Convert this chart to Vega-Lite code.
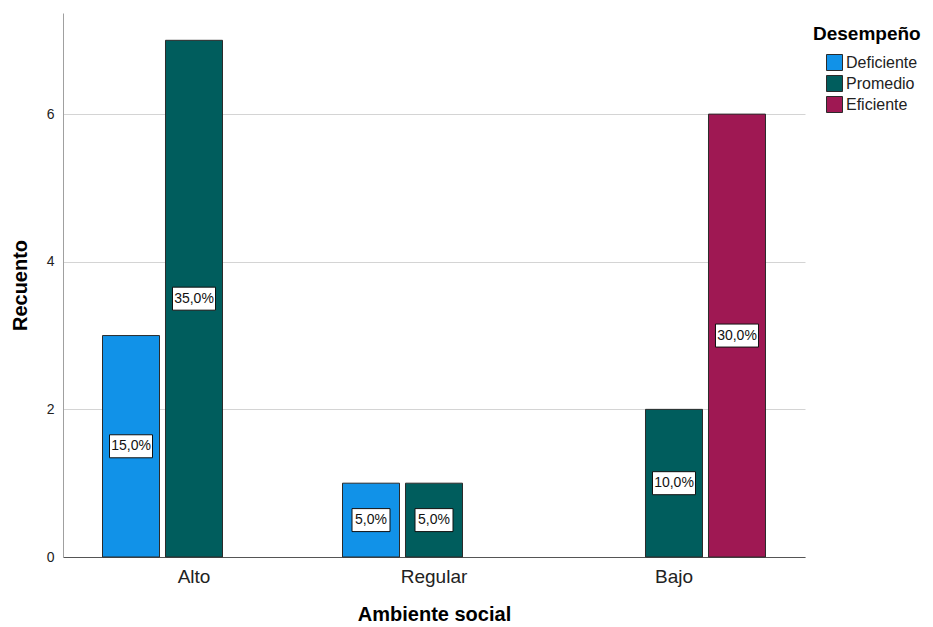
{
  "$schema": "https://vega.github.io/schema/vega-lite/v6.json",
  "autosize": {"type": "none"},
  "padding": {"left": 63, "top": 13, "right": 128, "bottom": 70},
  "width": 742,
  "height": 544,
  "background": "white",
  "config": {
    "view": {"stroke": null},
    "font": "Liberation Sans",
    "locale": {
      "number": {"decimal": ",", "thousands": ".", "grouping": [3], "currency": ["", " €"]}
    }
  },
  "data": {
    "values": [
      {"Ambiente": "Alto", "Desempeno": "Deficiente", "Recuento": 3},
      {"Ambiente": "Alto", "Desempeno": "Promedio", "Recuento": 7},
      {"Ambiente": "Regular", "Desempeno": "Deficiente", "Recuento": 1},
      {"Ambiente": "Regular", "Desempeno": "Promedio", "Recuento": 1},
      {"Ambiente": "Bajo", "Desempeno": "Promedio", "Recuento": 2},
      {"Ambiente": "Bajo", "Desempeno": "Eficiente", "Recuento": 6}
    ]
  },
  "transform": [
    {"joinaggregate": [{"op": "sum", "field": "Recuento", "as": "Total"}]},
    {"calculate": "datum.Recuento / datum.Total", "as": "Porcentaje"},
    {"calculate": "datum.Recuento / 2", "as": "Medio"}
  ],
  "encoding": {
    "x": {
      "field": "Ambiente",
      "type": "nominal",
      "sort": ["Alto", "Regular", "Bajo"],
      "scale": {"paddingInner": 0.2375, "paddingOuter": 0.1646},
      "axis": {
        "title": "Ambiente social",
        "titleFontSize": 20,
        "titleFontWeight": "bold",
        "titleColor": "#000000",
        "titlePadding": 18,
        "labelAngle": 0,
        "labelFontSize": 19,
        "labelColor": "#222222",
        "labelPadding": 10,
        "ticks": false,
        "domainColor": "#555555",
        "domainWidth": 1
      }
    },
    "xOffset": {
      "field": "Desempeno",
      "type": "nominal",
      "scale": {"domain": ["Deficiente", "Promedio", "Eficiente"], "paddingInner": 0.095, "paddingOuter": 0}
    }
  },
  "layer": [
    {
      "mark": {"type": "bar", "stroke": "#2b2b2b", "strokeWidth": 1},
      "encoding": {
        "y": {
          "field": "Recuento",
          "type": "quantitative",
          "scale": {"domain": [0, 7.37], "nice": false, "zero": true},
          "axis": {
            "title": "Recuento",
            "titleFontSize": 20,
            "titleFontWeight": "bold",
            "titleColor": "#000000",
            "titlePadding": 16,
            "values": [0, 2, 4, 6],
            "format": "d",
            "labelFontSize": 14,
            "labelColor": "#222222",
            "labelPadding": 9,
            "ticks": false,
            "domainColor": "#a0a0a0",
            "gridColor": "#d4d4d4",
            "gridWidth": 1
          }
        },
        "color": {
          "field": "Desempeno",
          "type": "nominal",
          "scale": {
            "domain": ["Deficiente", "Promedio", "Eficiente"],
            "range": ["#1192e8", "#005d5d", "#9f1853"]
          },
          "legend": {
            "title": "Desempeño",
            "orient": "none",
            "legendX": 750,
            "legendY": 12,
            "titleFontSize": 19,
            "titleFontWeight": "bold",
            "titleColor": "#000000",
            "titlePadding": 10,
            "labelFontSize": 16,
            "labelColor": "#222222",
            "labelOffset": 3,
            "symbolType": "square",
            "symbolSize": 256,
            "symbolStrokeColor": "#2b2b2b",
            "symbolStrokeWidth": 1,
            "symbolOffset": 13,
            "rowPadding": 0
          }
        }
      }
    },
    {
      "mark": {
        "type": "point",
        "filled": true,
        "fill": "white",
        "stroke": "#111111",
        "strokeWidth": 1,
        "opacity": 1
      },
      "encoding": {
        "y": {"field": "Medio", "type": "quantitative"},
        "shape": {
          "condition": {"test": "datum.Porcentaje < 0.1", "value": "M-1,-0.605H1V0.605H-1Z"},
          "value": "M-1,-0.535H1V0.535H-1Z"
        },
        "size": {
          "condition": {"test": "datum.Porcentaje < 0.1", "value": 1444},
          "value": 1849
        }
      }
    },
    {
      "mark": {"type": "text", "fontSize": 14, "color": "#111111", "baseline": "middle", "align": "center"},
      "encoding": {
        "y": {"field": "Medio", "type": "quantitative"},
        "text": {"field": "Porcentaje", "type": "quantitative", "format": ".1%"}
      }
    }
  ]
}
